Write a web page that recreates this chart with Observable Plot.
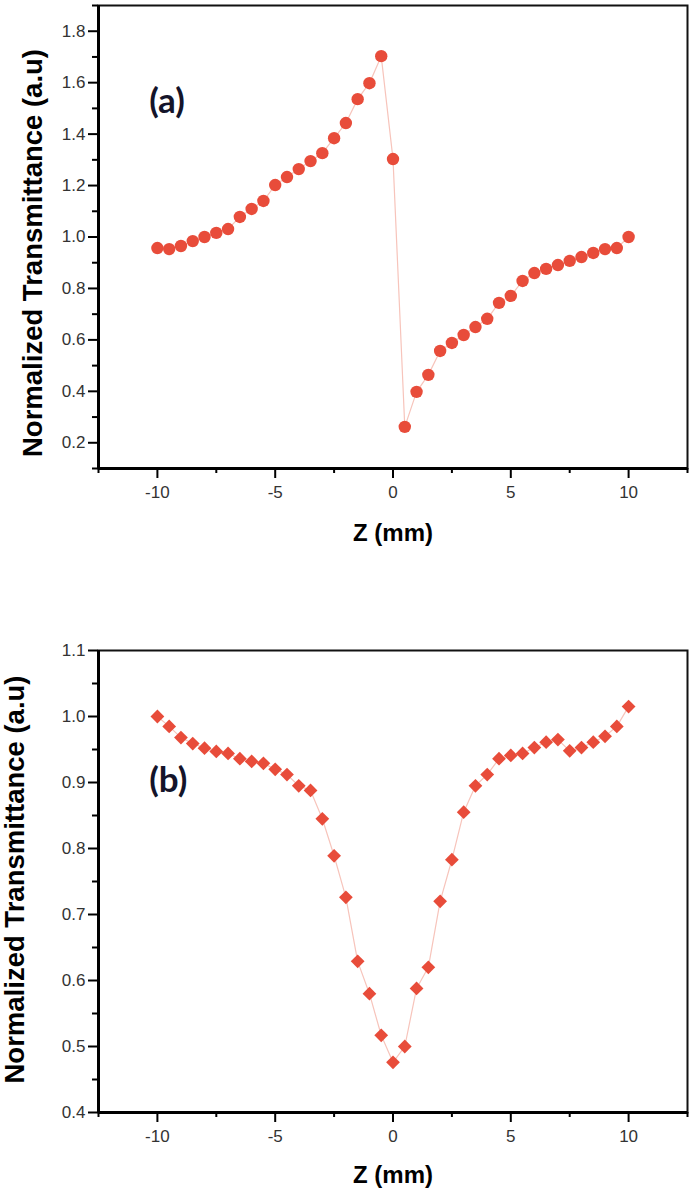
<!DOCTYPE html>
<html><head><meta charset="utf-8">
<script src="https://cdn.jsdelivr.net/npm/d3@7"></script>
<script src="https://cdn.jsdelivr.net/npm/@observablehq/plot@0.6"></script>
<style>
body{margin:0;background:#fff;}
#chart svg{display:block;}
</style>
</head><body><div id="chart"></div>
<script>
const z = [-10,-9.5,-9,-8.5,-8,-7.5,-7,-6.5,-6,-5.5,-5,-4.5,-4,-3.5,-3,-2.5,-2,-1.5,-1,-0.5,0,0.5,1,1.5,2,2.5,3,3.5,4,4.5,5,5.5,6,6.5,7,7.5,8,8.5,9,9.5,10];
const transA = [0.957,0.953,0.965,0.984,1.000,1.016,1.031,1.078,1.109,1.140,1.202,1.233,1.264,1.295,1.326,1.384,1.443,1.536,1.598,1.703,1.303,0.262,0.398,0.464,0.557,0.588,0.619,0.650,0.682,0.744,0.771,0.829,0.860,0.876,0.891,0.907,0.922,0.938,0.953,0.957,1.000];
const transB = [1.000,0.985,0.968,0.959,0.952,0.947,0.944,0.936,0.932,0.929,0.920,0.912,0.895,0.888,0.845,0.789,0.726,0.629,0.580,0.517,0.476,0.500,0.588,0.620,0.720,0.783,0.855,0.895,0.912,0.936,0.941,0.944,0.953,0.961,0.965,0.948,0.953,0.961,0.970,0.985,1.015];
const xTicks = [-10,-5,0,5,10];
const xMinor = [-12.5,-7.5,-2.5,2.5,7.5,12.5];
const yTicksA = [0.2,0.4,0.6,0.8,1.0,1.2,1.4,1.6,1.8];
const yMinorA = [0.1,0.3,0.5,0.7,0.9,1.1,1.3,1.5,1.7,1.9];
const yTicksB = [0.4,0.5,0.6,0.7,0.8,0.9,1.0,1.1];
const yMinorB = [0.45,0.55,0.65,0.75,0.85,0.95,1.05];
const xLabel = "Z (mm)";
const yLabel = "Normalized Transmittance (a.u)";
const panelNames = ["(a)","(b)"];

const markerColor = "#e84c3a";
const lineColor = "#f7c4bb";

function panel({values, symbol, r, yDomain, yTicks, yMinor, marginTop, marginBottom, tagY, ylabDx, ylabDy, xlabDy, name}) {
  const data = z.map((v, i) => ({z: v, t: values[i]}));
  return Plot.plot({
    width: 693,
    height: 597,
    marginLeft: 98,
    marginRight: 6,
    marginTop,
    marginBottom,
    style: {fontFamily: "'Liberation Sans', Arial, sans-serif", background: "#fff", overflow: "visible"},
    x: {domain: [-12.5, 12.5], label: null},
    y: {domain: yDomain, label: null},
    marks: [
      Plot.frame({stroke: "#111", strokeWidth: 2}),
      Plot.line(data, {x: "z", y: "t", stroke: lineColor, strokeWidth: 1.2}),
      Plot.dot(data, {x: "z", y: "t", fill: markerColor, r, symbol}),
      Plot.ruleX([-12.5], {stroke: "#000", strokeWidth: 3}),
      Plot.ruleY([yDomain[0]], {stroke: "#000", strokeWidth: 3}),
      Plot.axisX(xTicks, {tickSize: 10, text: null, stroke: "#000", strokeWidth: 2, label: null}),
      Plot.axisX(xMinor, {tickSize: 5, text: null, stroke: "#000", strokeWidth: 2, label: null}),
      Plot.axisX(xTicks, {tickSize: 0, tickPadding: 17, fill: "#333", fontSize: 17, tickFormat: d => String(d), label: null}),
      Plot.axisY(yTicks, {tickSize: 10, text: null, stroke: "#000", strokeWidth: 2, label: null}),
      Plot.axisY(yMinor, {tickSize: 6, text: null, stroke: "#000", strokeWidth: 2, label: null}),
      Plot.axisY(yTicks, {tickSize: 0, tickPadding: 13, fill: "#333", fontSize: 17, tickFormat: d3.format(".1f"), label: null}),
      Plot.text([name], {x: () => -10.35, y: () => tagY, text: d => d, textAnchor: "start", fontSize: 35, fontWeight: "bold", fontFamily: "Lato, 'Open Sans', sans-serif", fill: "#14142a"}),
      Plot.text([yLabel], {frameAnchor: "left", text: d => d, textAnchor: "middle", lineAnchor: "middle", rotate: -90, dx: ylabDx, dy: ylabDy, fontSize: 27.5, fontWeight: "bold", fill: "#000"}),
      Plot.text([xLabel], {frameAnchor: "bottom", text: d => d, textAnchor: "middle", lineAnchor: "middle", dy: xlabDy, fontSize: 24, fontWeight: "bold", fill: "#000"})
    ]
  });
}

const chart = document.getElementById("chart");
chart.append(panel({values: transA, symbol: "circle", r: 6.2, yDomain: [0.1, 1.9], yTicks: yTicksA, yMinor: yMinorA, marginTop: 5, marginBottom: 129, tagY: 1.524, ylabDx: -65, ylabDy: 16, xlabDy: 65, name: panelNames[0]}));
chart.append(panel({values: transB, symbol: "diamond2", r: 6.2, yDomain: [0.4, 1.1], yTicks: yTicksB, yMinor: yMinorB, marginTop: 53, marginBottom: 82, tagY: 0.902, ylabDx: -83, ylabDy: -2, xlabDy: 63, name: panelNames[1]}));
</script>
</body></html>
